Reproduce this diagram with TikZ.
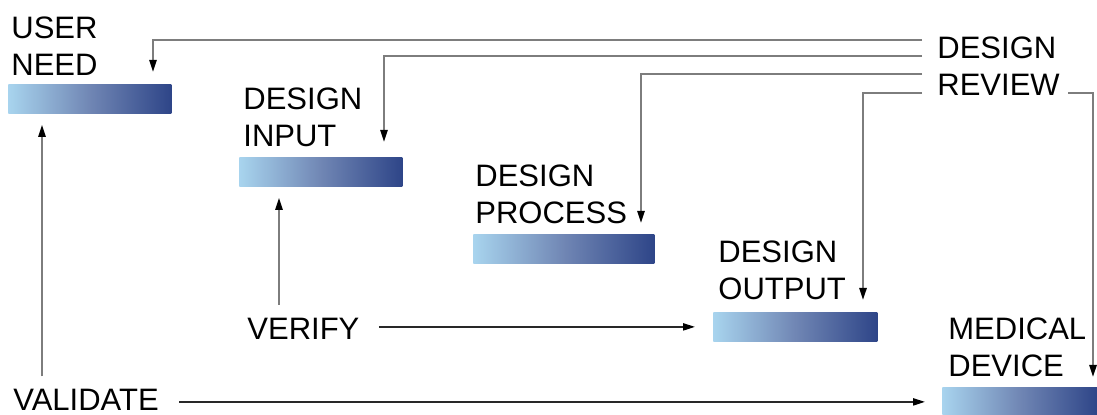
\documentclass[tikz,border=0pt]{standalone}
\usepackage{fontspec}
\setmainfont{Liberation Sans}
\usetikzlibrary{arrows.meta}
\definecolor{barL}{RGB}{168,212,238}
\definecolor{barM}{RGB}{112,134,180}
\definecolor{barR}{RGB}{46,69,136}
\definecolor{lineG}{RGB}{125,125,125}
\definecolor{lineD}{RGB}{40,40,40}
\tikzset{
  bar/.style={rectangle, inner sep=0pt, minimum height=14.5pt, anchor=north west,
    left color=barL, right color=barR, middle color=barM},
  lbl/.style={inner sep=0pt, anchor=north west, align=left,
    font=\fontsize{15.5}{18.5}\selectfont},
  arr/.style={draw=lineG, line width=1pt, -{Triangle[length=6pt,width=3.6pt,color=black]}},
  arrd/.style={draw=lineD, line width=0.8pt, -{Triangle[length=6pt,width=3.6pt,color=black]}}
}
\begin{document}
\begin{tikzpicture}[x=0.5pt,y=-0.5pt]
\useasboundingbox (0,0) rectangle (1097,415);
% bars
\node[bar, minimum width=81.5pt] (un) at (8,84) {};
\node[bar, minimum width=81.5pt] (di) at (239,157) {};
\node[bar, minimum width=90.5pt] (dp) at (473,234) {};
\node[bar, minimum width=82pt] (do) at (713,312) {};
\node[bar, minimum width=77.5pt] (md) at (942,387) {};
% labels
\node[lbl] (unl) at (11,16) {USER\\NEED};
\node[lbl] (dil) at (243,87) {DESIGN\\INPUT};
\node[lbl] (dpl) at (475,164) {DESIGN\\PROCESS};
\node[lbl] (dol) at (718,240) {DESIGN\\OUTPUT};
\node[lbl] (mdl) at (948,317) {MEDICAL\\DEVICE};
\node[lbl] (rev) at (937,36) {DESIGN\\REVIEW};
\node[lbl] (ver) at (247,318) {VERIFY};
\node[lbl] (val) at (13,388.5) {VALIDATE};
% review connectors
\coordinate (r1) at (922,40);
\coordinate (r2) at (922,56);
\coordinate (r3) at (922,74);
\coordinate (r4) at (922,93);
\coordinate (r5) at (1068,93);
\draw[arr, shorten >=6pt] (r1) -| ([xshift=72.5pt]un.north west);
\draw[arr, shorten >=7.5pt] (r2) -| ([xshift=72.5pt]di.north west);
\draw[arr, shorten >=5.5pt] (r3) -| ([xshift=84pt]dp.north west);
\draw[arr, shorten >=6pt] (r4) -| ([xshift=75pt]do.north west);
\draw[arr, shorten >=5pt] (r5) -| ([xshift=75.5pt]md.north west);
% verify
\coordinate (va) at ([xshift=20pt]di.south west);
\draw[arr, shorten <=6.5pt, shorten >=5.5pt] (va |- ver.north) -- (va);
\draw[arrd, shorten <=9.5pt, shorten >=9pt] (ver.east |- do.west) -- (do.west);
% validate
\coordinate (ua) at ([xshift=17pt]un.south west);
\draw[arr, shorten <=6pt, shorten >=5.5pt] (ua |- val.north) -- (ua);
\draw[arrd, shorten <=10pt, shorten >=8.5pt] (val.east |- md.west) -- (md.west);
\end{tikzpicture}
\end{document}
